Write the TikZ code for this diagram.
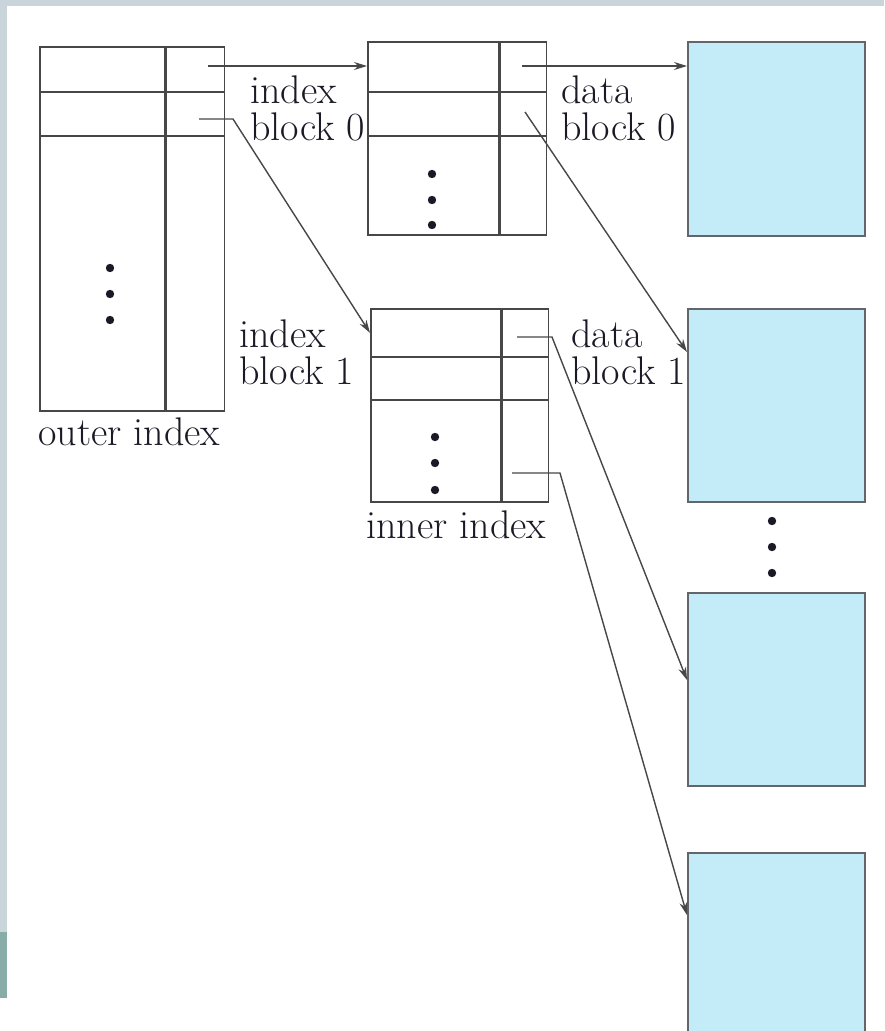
\documentclass[tikz,border=0pt]{standalone}
\usepackage{xcolor}
\definecolor{linec}{HTML}{474747}
\definecolor{textc}{HTML}{1A1A26}
\definecolor{datac}{HTML}{C4ECF8}
\definecolor{datab}{HTML}{62666A}
\definecolor{stripc}{HTML}{C9D4DB}
\definecolor{tealc}{HTML}{88ACA8}
\usepackage{tikz}
\usetikzlibrary{arrows.meta,calc}
\tikzset{
  >={Stealth[length=13pt,width=8pt]},
  cell/.style={draw=linec,line width=1.7pt,fill=white,inner sep=0pt,anchor=north west},
  dblock/.style={draw=datab,line width=1.8pt,fill=datac,inner sep=0pt,anchor=north west,minimum width=177pt},
  ptr/.style={->,line width=1.4pt,draw=linec},
  lbl/.style={font=\fontsize{40}{37}\selectfont,text=textc,align=left,inner sep=0pt,anchor=north west},
  dot/.style={fill=textc},
}
\newcommand{\idxtab}[5]{%
  \foreach \t/\h [count=\k from 0] in {#5} {
    \node[cell,minimum width=#3pt,minimum height=\h*1pt] (#1-\k-l) at (#2,\t) {};
    \node[cell,minimum width=#4pt,minimum height=\h*1pt] (#1-\k-r) at (#1-\k-l.north east) {};}}

\begin{document}
\begin{tikzpicture}[x=1pt,y=-1pt]
  \useasboundingbox (0,0) rectangle (884,1031);
  \clip (0,0) rectangle (884,1031);
  \fill[white] (0,0) rectangle (884,1031);
  \fill[stripc] (0,0) rectangle (884,6);
  \fill[stripc] (0,0) rectangle (7,932);
  \fill[tealc] (0,932) rectangle (7,998);

  \idxtab{out}{39}{125}{58}{46/45,91/44,135/275}
  \idxtab{ib0}{367}{131}{46}{41/50,91/44,135/99}
  \idxtab{ib1}{370}{130}{46}{308/48,356/43,399/102}
  \foreach \y in {268,294,320} \fill[dot] (110,\y) circle (4.2pt);
  \foreach \y in {174,200,225} \fill[dot] (432,\y) circle (4.2pt);
  \foreach \y in {437,463,490} \fill[dot] (435,\y) circle (4.2pt);

  \node[dblock,minimum height=194pt] (db0) at (687,41) {};
  \node[dblock,minimum height=193pt] (db1) at (687,308) {};
  \node[dblock,minimum height=193pt] (db2) at (687,592) {};
  \node[dblock,minimum height=200pt] (db3) at (687,852) {};
  \foreach \y in {521,547,573} \fill[dot] (772,\y) circle (4.2pt);

  \node[lbl] (lib0) at (250,76) {index\\block 0};
  \node[lbl] (ldb0) at (561,76) {data\\block 0};
  \node[lbl] (lib1) at (239,320) {index\\block 1};
  \node[lbl] (ldb1) at (571,320) {data\\block 1};
  \node[lbl,anchor=base west] (lout) at (38,445) {outer index};
  \node[lbl,anchor=base west] (linn) at (366,538) {inner index};

  \coordinate (o0) at (208,66);
  \coordinate (o1) at (199,119);
  \coordinate (a0) at (522,66);
  \coordinate (a1) at (525,112);
  \coordinate (b0) at (517,337);
  \coordinate (b1) at (512,473);
  \draw[ptr] (o0) -- (o0 -| ib0-0-l.west);
  \draw[ptr] (o1) -- ++(34,0) -- (ib1-0-l.west);
  \draw[ptr] (a0) -- (a0 -| db0.west);
  \draw[ptr] (a1) -- ($(db1.north west)+(0,44)$);
  \draw[ptr] (b0) -- ++(35,0) -- ($(db2.north west)+(0,88)$);
  \draw[ptr] (b1) -- ++(48,0) -- ($(db3.north west)+(0,63)$);
\end{tikzpicture}
\end{document}
